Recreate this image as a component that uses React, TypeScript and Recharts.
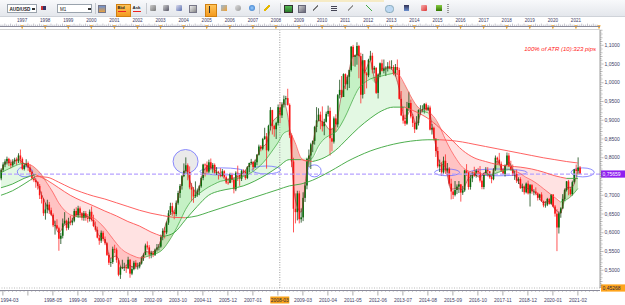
import React from 'react';
import { ComposedChart, Bar, Line, Area, XAxis, YAxis, ReferenceLine, ReferenceArea } from 'recharts';

// ---------------- data (monthly AUD/USD, first bar = 1996-02) ----------------
const OPEN = [
  .745,.768,.782,.790,.797,.785,.780,.790,.795,.791,.806,
  .797,.770,.780,.786,.774,.762,.745,.740,.735,.725,.700,.690,
  .652,.662,.675,.660,.648,.620,.620,.612,.584,.592,.625,.632,
  .613,.630,.627,.632,.658,.647,.665,.652,.640,.652,.640,.637,
  .656,.634,.618,.608,.587,.579,.600,.583,.572,.541,.520,.522,
  .557,.555,.527,.488,.508,.508,.509,.505,.528,.491,.503,.520,
  .510,.510,.518,.533,.541,.566,.561,.542,.546,.541,.555,.561,
  .563,.588,.605,.601,.627,.652,.671,.655,.650,.680,.706,.725,
  .751,.765,.780,.762,.721,.715,.697,.701,.713,.724,.746,.782,
  .781,.763,.788,.772,.781,.760,.761,.760,.752,.764,.748,.734,
  .733,.756,.741,.716,.760,.755,.744,.765,.763,.746,.775,.786,
  .789,.775,.788,.808,.830,.824,.850,.857,.820,.885,.927,.885,
  .876,.893,.935,.913,.942,.956,.959,.941,.860,.790,.664,.655,
  .705,.636,.641,.693,.726,.797,.806,.836,.845,.882,.900,.915,
  .897,.884,.896,.917,.925,.852,.843,.905,.889,.967,.981,.962,
  1.023,.996,1.016,1.034,1.096,1.069,1.073,1.098,1.071,.968,1.060,1.025,
  1.020,1.061,1.072,1.035,1.040,.973,1.022,1.052,1.032,1.038,1.038,1.044,
  1.039,1.042,1.024,1.042,1.034,.957,.913,.899,.891,.932,.946,.910,
  .893,.876,.893,.927,.929,.930,.943,.928,.934,.875,.880,.851,
  .818,.777,.782,.761,.792,.766,.771,.731,.710,.701,.714,.723,
  .729,.707,.713,.766,.760,.722,.745,.760,.752,.765,.761,.739,
  .722,.758,.767,.764,.748,.743,.769,.800,.795,.784,.766,.757,
  .781,.806,.777,.768,.753,.757,.739,.743,.719,.723,.708,.731,
  .705,.727,.710,.710,.705,.693,.702,.684,.673,.675,.690,.677,
  .702,.670,.651,.614,.652,.665,.690,.714,.737,.716,.703,.735,
  .769,.765,.774,
];
const HIGH = [
  .772,.788,.796,.803,.800,.795,.796,.800,.801,.812,.822,
  .801,.786,.796,.790,.782,.765,.750,.745,.738,.730,.710,.693,
  .680,.688,.682,.667,.652,.632,.636,.616,.600,.638,.655,.635,
  .640,.645,.640,.664,.668,.672,.670,.655,.658,.658,.650,.662,
  .670,.648,.630,.616,.594,.606,.605,.590,.575,.547,.532,.563,
  .568,.560,.532,.512,.528,.520,.515,.536,.530,.511,.525,.527,
  .520,.522,.537,.545,.571,.577,.567,.552,.551,.558,.570,.570,
  .595,.612,.615,.630,.660,.680,.680,.660,.686,.712,.730,.754,
  .785,.801,.785,.777,.733,.722,.737,.718,.727,.750,.784,.785,
  .790,.795,.798,.786,.785,.775,.765,.772,.770,.767,.752,.745,
  .760,.760,.745,.764,.779,.758,.768,.769,.767,.778,.787,.797,
  .791,.795,.810,.835,.834,.853,.880,.866,.888,.935,.928,.888,
  .896,.942,.949,.948,.966,.965,.984,.945,.865,.800,.705,.712,
  .712,.665,.708,.735,.800,.822,.840,.846,.885,.935,.932,.923,
  .937,.904,.923,.939,.934,.880,.910,.916,.970,1.008,1.018,1.025,
  1.025,1.020,1.035,1.098,1.101,1.075,1.108,1.101,1.080,1.077,1.060,1.029,
  1.064,1.085,1.080,1.045,1.041,1.025,1.054,1.062,1.062,1.044,1.055,1.059,
  1.060,1.047,1.050,1.062,1.040,.978,.935,.915,.949,.976,.955,.917,
  .897,.911,.929,.940,.940,.946,.947,.940,.939,.890,.883,.852,
  .829,.795,.789,.803,.809,.786,.775,.744,.715,.738,.729,.738,
  .730,.725,.768,.783,.763,.757,.763,.776,.770,.773,.778,.749,
  .760,.775,.775,.765,.752,.772,.806,.803,.813,.790,.772,.782,
  .814,.813,.792,.782,.765,.768,.748,.748,.731,.726,.734,.739,
  .730,.730,.716,.721,.708,.704,.708,.686,.684,.693,.693,.703,
  .703,.674,.663,.657,.668,.703,.718,.738,.741,.722,.739,.770,
  .782,.801,.778,
];
const LOW = [
  .740,.762,.775,.782,.778,.772,.776,.783,.781,.786,.786,
  .767,.766,.776,.765,.756,.740,.735,.720,.715,.690,.678,.645,
  .635,.652,.650,.645,.615,.595,.610,.552,.570,.585,.622,.606,
  .608,.620,.620,.628,.642,.640,.640,.633,.632,.632,.627,.630,
  .630,.615,.603,.585,.568,.573,.577,.567,.538,.514,.509,.517,
  .546,.520,.484,.477,.503,.498,.493,.503,.480,.487,.500,.503,
  .502,.505,.515,.525,.540,.555,.531,.532,.535,.538,.550,.553,
  .560,.580,.585,.596,.621,.648,.645,.636,.644,.675,.693,.715,
  .749,.760,.740,.716,.684,.680,.693,.696,.700,.720,.740,.750,
  .755,.758,.767,.760,.755,.754,.742,.748,.750,.745,.730,.728,
  .732,.734,.705,.711,.738,.725,.738,.752,.741,.743,.761,.782,
  .767,.774,.780,.806,.817,.820,.848,.771,.817,.873,.862,.856,
  .850,.886,.892,.906,.934,.940,.939,.853,.775,.601,.625,.633,
  .625,.627,.631,.682,.716,.775,.770,.815,.835,.868,.897,.876,
  .870,.860,.894,.910,.806,.817,.838,.869,.881,.958,.960,.962,
  .983,.980,.986,1.030,1.045,1.043,1.048,1.012,.945,.958,.970,.985,
  1.015,1.058,1.025,1.025,.970,.958,1.015,1.030,1.025,1.018,1.030,1.036,
  1.035,1.020,1.017,1.022,.955,.911,.891,.885,.888,.925,.905,.882,
  .866,.875,.886,.915,.921,.918,.925,.925,.873,.862,.846,.802,
  .772,.762,.753,.757,.757,.760,.726,.689,.690,.697,.703,.706,
  .683,.701,.709,.752,.715,.715,.735,.749,.747,.753,.734,.716,
  .716,.757,.750,.744,.732,.740,.765,.782,.782,.762,.755,.750,
  .780,.776,.766,.753,.741,.733,.730,.717,.709,.702,.705,.702,
  .670,.704,.700,.700,.686,.687,.683,.668,.667,.671,.675,.675,
  .668,.643,.551,.598,.640,.663,.684,.710,.700,.699,.699,.731,
  .756,.756,.757,
];
const CLOSE = [
  .768,.782,.790,.797,.785,.780,.790,.795,.791,.806,.797,
  .770,.780,.786,.774,.762,.745,.740,.735,.725,.700,.690,.652,
  .662,.675,.660,.648,.620,.620,.612,.584,.592,.625,.632,.613,
  .630,.627,.632,.658,.647,.665,.652,.640,.652,.640,.637,.656,
  .634,.618,.608,.587,.579,.600,.583,.572,.541,.520,.522,.557,
  .555,.527,.488,.508,.508,.509,.505,.528,.491,.503,.520,.510,
  .510,.518,.533,.541,.566,.561,.542,.546,.541,.555,.561,.563,
  .588,.605,.601,.627,.652,.671,.655,.650,.680,.706,.725,.751,
  .765,.780,.762,.721,.715,.697,.701,.713,.724,.746,.782,.781,
  .763,.788,.772,.781,.760,.761,.760,.752,.764,.748,.734,.733,
  .756,.741,.716,.760,.755,.744,.765,.763,.746,.775,.786,.789,
  .775,.788,.808,.830,.824,.850,.857,.820,.885,.927,.885,.876,
  .893,.935,.913,.942,.956,.959,.941,.860,.790,.664,.655,.705,
  .636,.641,.693,.726,.797,.806,.836,.845,.882,.900,.915,.897,
  .884,.896,.917,.925,.852,.843,.905,.889,.967,.981,.962,1.023,
  .996,1.016,1.034,1.096,1.069,1.073,1.098,1.071,.968,1.060,1.025,1.020,
  1.061,1.072,1.035,1.040,.973,1.022,1.052,1.032,1.038,1.038,1.044,1.039,
  1.042,1.024,1.042,1.034,.957,.913,.899,.891,.932,.946,.910,.893,
  .876,.893,.927,.929,.930,.943,.928,.934,.875,.880,.851,.818,
  .777,.782,.761,.792,.766,.771,.731,.710,.701,.714,.723,.729,
  .707,.713,.766,.760,.722,.745,.760,.752,.765,.761,.739,.722,
  .758,.767,.764,.748,.743,.769,.800,.795,.784,.766,.757,.781,
  .806,.777,.768,.753,.757,.739,.743,.719,.723,.708,.731,.705,
  .727,.710,.710,.705,.693,.702,.684,.673,.675,.690,.677,.702,
  .670,.651,.614,.652,.665,.690,.714,.737,.716,.703,.735,.769,
  .765,.774,.757,
];

// indicator lines (fast / mid every 3 bars, slow lines every 6 bars)
const FAST = [
  .762,.788,.788,.797,.784,.772,.742,.703,.670,.640,
  .600,.620,.627,.648,.650,.643,.630,.592,.582,.532,
  .538,.505,.515,.508,.514,.550,.548,.556,.595,.642,
  .658,.712,.768,.728,.706,.760,.778,.768,.756,.742,
  .745,.750,.760,.780,.790,.825,.838,.893,.912,.945,
  .880,.690,.655,.765,.835,.900,.893,.875,.885,.965,
  1.008,1.070,1.075,1.030,1.058,.998,1.038,1.040,1.032,.985,
  .903,.925,.890,.927,.932,.862,.788,.776,.716,.718,
  .715,.744,.755,.748,.762,.750,.792,.768,.788,.757,
  .728,.719,.714,.700,.680,.683,.663,.652,.720,.722,
  .767,
];
const MID = [
  .760,.768,.775,.782,.785,.782,.772,.755,.732,.708,
  .680,.660,.648,.643,.642,.643,.640,.628,.612,.592,
  .572,.555,.545,.538,.533,.535,.540,.545,.555,.575,
  .600,.630,.662,.685,.700,.712,.722,.730,.737,.740,
  .742,.745,.750,.757,.767,.780,.797,.818,.840,.865,
  .872,.840,.800,.790,.800,.830,.850,.860,.868,.890,
  .920,.955,.985,1.000,1.010,1.015,1.018,1.022,1.025,1.020,
  .995,.965,.940,.925,.920,.910,.885,.850,.820,.795,
  .775,.765,.760,.758,.755,.755,.760,.765,.768,.766,
  .758,.748,.740,.730,.718,.706,.694,.682,.688,.700,
  .718,
];
const SLOW1 = [
  .720,.730,.745,.755,.740,.720,.700,.685,.672,.658,
  .645,.630,.618,.602,.590,.600,.635,.670,.700,.712,
  .718,.725,.738,.755,.775,.795,.795,.790,.800,.820,
  .850,.880,.905,.925,.935,.935,.922,.905,.880,.850,
  .820,.800,.790,.782,.778,.775,.770,.762,.752,.745,
  .745,
];
const SLOW2 = [
  .700,.712,.730,.750,.748,.735,.720,.708,.698,.690,
  .680,.670,.660,.652,.646,.641,.640,.645,.655,.665,
  .675,.685,.695,.705,.715,.725,.730,.740,.755,.772,
  .790,.805,.818,.828,.836,.842,.846,.848,.848,.846,
  .842,.836,.830,.824,.818,.812,.806,.800,.795,.790,
  .786,
];

// axis texts
const BOTTOM_LABELS = ['1994-03','1998-05','1999-06','2000-07','2001-08','2002-09','2003-10','2004-11','2005-12','2007-01','2009-03','2010-04','2011-05','2012-06','2013-07','2014-08','2015-09','2016-10','2017-11','2018-12','2020-01','2021-02'];
const LAST_YEAR_LABEL = 2021;
const CURSOR_LABEL = '2008-03';
const CURRENT_PRICE = 0.75659;
const MIN_PRICE = 0.45268;
const ATR_TEXT = '100% of ATR (10):323 pips';

// hand-drawn annotation ellipses: [fromBar, toBar, lowPrice, highPrice, shaded]
const ELLIPSES: [number, number, number, number, boolean][] = [
  [9, 16, 0.749, 0.776, false],
  [90, 102, 0.758, 0.822, true],
  [104, 126, 0.754, 0.773, false],
  [131, 145, 0.757, 0.778, false],
  [160, 166, 0.749, 0.781, false],
  [226, 238, 0.752, 0.770, false],
  [244, 273, 0.752, 0.770, false],
  [297, 308, 0.749, 0.773, false],
];

// ---------------- layout / style ----------------
const W = 625, H = 305;
const SLOTS = 312;
const FONT = '"Liberation Sans", Arial, sans-serif';
const AXIS_TEXT = '#3c3c66';
const BULL = '#0b6b0b', BULL_WICK = '#174a17';
const BEAR = '#ff1010', BEAR_WICK = '#ff2a2a';
const GREEN_FILL = '#7fe07f', RED_FILL = '#ff7a7a';
const GREEN_LINE = '#3aa53a', RED_LINE = '#ff5050';

const ym = (i: number) => ({ y: 1996 + Math.floor((i + 1) / 12), m: ((i + 1) % 12) + 1 });
const barOf = (s: string) => { const [y, m] = s.split('-').map(Number); return (y - 1996) * 12 + (m - 2); };

const ALL_I = Array.from({ length: SLOTS }, (_, i) => i);
const rows: any[] = ALL_I.map((i) => ({ i }));
CLOSE.forEach((c, i) => { rows[i].hl = [LOW[i], HIGH[i]]; rows[i].o = OPEN[i]; rows[i].c = c; });

const FAST_I = FAST.map((_, k) => k * 3);
const SLOW_I = SLOW1.map((_, k) => k * 6);
FAST.forEach((v, k) => { rows[FAST_I[k]].fast = v; });

type Run = { from: number; to: number; green: boolean };
function segRuns(n: number, green: (k: number) => boolean): Run[] {
  const runs: Run[] = [];
  for (let k = 0; k < n - 1; k++) {
    const g = green(k);
    const last = runs[runs.length - 1];
    if (last && last.green === g) last.to = k + 1;
    else runs.push({ from: k, to: k + 1, green: g });
  }
  return runs;
}

type Series = { key: string; green: boolean };
const abFills: Series[] = [], midLines: Series[] = [], bcFills: Series[] = [], s1Lines: Series[] = [], s2Lines: Series[] = [];

segRuns(FAST.length, (k) => FAST[k] + FAST[k + 1] >= MID[k] + MID[k + 1]).forEach((r, n) => {
  const fk = `ab${n}`, mk = `mid${n}`;
  for (let k = r.from; k <= r.to; k++) {
    const a = FAST[k], b = MID[k];
    rows[FAST_I[k]][fk] = [Math.min(a, b), Math.max(a, b)];
    rows[FAST_I[k]][mk] = b;
  }
  abFills.push({ key: fk, green: r.green });
  midLines.push({ key: mk, green: r.green });
});
const midAtSlow = SLOW_I.map((i) => MID[i / 3]);
segRuns(SLOW1.length, (k) => midAtSlow[k] + midAtSlow[k + 1] >= SLOW1[k] + SLOW1[k + 1]).forEach((r, n) => {
  const key = `bc${n}`;
  for (let k = r.from; k <= r.to; k++) {
    const a = midAtSlow[k], b = SLOW1[k];
    rows[SLOW_I[k]][key] = [Math.min(a, b), Math.max(a, b)];
  }
  bcFills.push({ key, green: r.green });
});
const slopeRuns = (vals: number[], prefix: string, out: Series[]) =>
  segRuns(vals.length, (k) => vals[k + 1] >= vals[k]).forEach((r, n) => {
    const key = `${prefix}${n}`;
    for (let k = r.from; k <= r.to; k++) rows[SLOW_I[k]][key] = vals[k];
    out.push({ key, green: r.green });
  });
slopeRuns(SLOW1, 's1_', s1Lines);
slopeRuns(SLOW2, 's2_', s2Lines);

const MAJOR = new Set(Array.from({ length: 24 }, (_, k) => 1 + 13 * k));
const LABEL_AT: Record<number, string> = {};
BOTTOM_LABELS.forEach((t, n) => { LABEL_AT[n === 0 ? 1 : barOf(t)] = t; });

const Y_TICKS: number[] = [];
for (let k = 91; k <= 228; k++) Y_TICKS.push(k / 200);
const fmt = (v: number, d = 4) => v.toFixed(d).replace('.', ',');

// ---------------- renderers ----------------
const Candle = (props: any) => {
  const { x, y, width, height, payload } = props;
  if (!payload || !payload.hl) return null;
  const [lo, hi] = payload.hl;
  const top = Math.min(y, y + height), h = Math.abs(height);
  const span = hi - lo || 1;
  const py = (v: number) => top + ((hi - v) / span) * h;
  const cx = x + width / 2;
  const up = payload.c >= payload.o;
  const yo = py(payload.o), yc = py(payload.c);
  const bt = Math.min(yo, yc), bh = Math.max(Math.abs(yc - yo), 0.8);
  return (
    <g>
      <line x1={cx} x2={cx} y1={top} y2={top + h} stroke={up ? BULL_WICK : BEAR_WICK} strokeWidth={0.8} />
      <rect x={cx - 0.8} y={bt} width={1.6} height={bh} fill={up ? BULL : BEAR} />
    </g>
  );
};

const AxisTick = (props: any) => {
  const { x, payload } = props;
  const i = payload.value as number;
  const { y: yr, m } = ym(i);
  const out: any[] = [];
  // top ruler
  if (m === 1) {
    out.push(<path key="tm" d={`M${x - 1.6},25.2 L${x + 1.6},25.2 L${x},29.4 Z`} fill="#f0a020" />);
    if (yr <= LAST_YEAR_LABEL) out.push(<text key="tt" x={x} y={22.2} fontSize={4.6} textAnchor="middle" fill={AXIS_TEXT} fontFamily={FONT}>{yr}</text>);
  } else {
    out.push(<line key="tl" x1={x} x2={x} y1={(m - 1) % 3 === 0 ? 23.6 : 24.6} y2={26} stroke="#8a8a9a" strokeWidth={0.5} />);
  }
  // bottom ruler
  if (MAJOR.has(i)) out.push(<line key="bl" x1={x} x2={x} y1={290} y2={295.5} stroke="#777" strokeWidth={0.6} />);
  else if (i % 2 === 0) out.push(<line key="bl" x1={x} x2={x} y1={290} y2={292} stroke="#999" strokeWidth={0.5} />);
  const lab = LABEL_AT[i];
  if (lab) {
    const first = i === 1;
    out.push(<text key="bt" x={first ? 0.5 : x} y={301.5} fontSize={4.9} textAnchor={first ? 'start' : 'middle'} fill={AXIS_TEXT} fontFamily={FONT}>{lab}</text>);
  }
  return <g>{out}</g>;
};

const YTick = (props: any) => {
  const { x, y, payload } = props;
  const v = payload.value as number;
  const major = Math.round(v * 200) % 10 === 0;
  const mid = Math.round(v * 200) % 2 === 0;
  // the 0,7500 label sits under the current-price tag, as in the original
  const hidden = Math.abs(v - 0.75) < 1e-6;
  return (
    <g>
      <line x1={x} x2={x + (major ? 3.5 : mid ? 2.5 : 1.5)} y1={y} y2={y} stroke="#777" strokeWidth={0.5} />
      {major && !hidden && v <= 1.1 && v >= 0.5 ? (
        <text x={x + 4.5} y={y + 1.7} fontSize={5} fill={AXIS_TEXT} fontFamily={FONT}>{fmt(v)}</text>
      ) : null}
    </g>
  );
};

const priceTag = (text: string, bg: string, fg: string) => (p: any) => {
  const vb = p.viewBox || {};
  const x = (vb.x || 0) + (vb.width || 0);
  const y = vb.y || 0;
  return (
    <g>
      <rect x={x + 1} y={y - 3.6} width={24} height={7.2} fill={bg} />
      <text x={x + 2.5} y={y + 1.8} fontSize={5} fill={fg} fontFamily={FONT}>{text}</text>
    </g>
  );
};

const cursorTag = (p: any) => {
  const vb = p.viewBox || {};
  const x = vb.x || 0;
  return (
    <g>
      <rect x={x - 9.5} y={296.5} width={19} height={7} fill="#f7a21b" />
      <text x={x} y={301.6} fontSize={4.9} textAnchor="middle" fill="#2a2a40" fontFamily={FONT}>{CURSOR_LABEL}</text>
    </g>
  );
};

const ellipseShape = (shaded: boolean) => (p: any) => (
  <ellipse
    cx={p.x + p.width / 2}
    cy={p.y + p.height / 2}
    rx={Math.abs(p.width) / 2}
    ry={Math.abs(p.height) / 2}
    fill={shaded ? '#d9d9d9' : 'none'}
    fillOpacity={shaded ? 0.55 : 0}
    stroke="#6f6fff"
    strokeWidth={0.8}
  />
);

// ---------------- toolbar chrome ----------------
const Box = (s: any) => <div style={{ position: 'absolute', ...s }} />;
const Toolbar = () => (
  <div style={{ position: 'absolute', left: 0, top: 0, width: W, height: 16, background: 'linear-gradient(#f8f9fb,#e4e7ec)', borderBottom: '1px solid #cfd3d9' }}>
    <Box left={290} top={0} width={94} height={2} background="#f6ebc6" />
    <div style={{ position: 'absolute', left: 7, top: 4, width: 30, height: 9, background: '#fff', border: '0.5px solid #9aa3ad', fontSize: 4.6, fontWeight: 'bold', lineHeight: '9px', paddingLeft: 1.5, color: '#222', fontFamily: FONT, boxSizing: 'border-box' }}>AUD/USD</div>
    <Box left={32} top={8} width={2.5} height={1.5} background="#333" />
    <Box left={41} top={6} width={5} height={4} background="linear-gradient(90deg,#c33 50%,#336 50%)" />
    <div style={{ position: 'absolute', left: 57, top: 4, width: 35, height: 9, background: '#fff', border: '0.5px solid #9aa3ad', fontSize: 4.6, lineHeight: '9px', paddingLeft: 2, color: '#222', fontFamily: FONT, boxSizing: 'border-box' }}>M1</div>
    <Box left={88} top={8} width={2.5} height={1.5} background="#333" />
    <Box left={98} top={5} width={6} height={6} background="linear-gradient(#6a8fd0,#e8a040)" border="0.5px solid #778" />
    <Box left={115.5} top={3.5} width={13.5} height={11} background="linear-gradient(#ffc45a,#f39a1e)" border="0.5px solid #d08010" />
    <div style={{ position: 'absolute', left: 117.5, top: 5, fontSize: 4.4, fontWeight: 'bold', color: '#222', fontFamily: FONT }}>Bid</div>
    <Box left={117.5} top={11} width={8} height={0.8} background="#e22" />
    <div style={{ position: 'absolute', left: 132.5, top: 5, fontSize: 4.4, fontWeight: 'bold', color: '#222', fontFamily: FONT }}>Ask</div>
    <Box left={132.5} top={11} width={8} height={0.8} background="#e22" />
    <Box left={150} top={5} width={6} height={6} background="linear-gradient(135deg,#ccc,#777)" borderRadius={1} />
    <Box left={163} top={5} width={6} height={6} background="linear-gradient(135deg,#ccc,#556)" borderRadius={1} />
    <Box left={176} top={5} width={6} height={6} background="linear-gradient(135deg,#dde,#5a6fb0)" borderRadius={1} />
    <Box left={189} top={5} width={6} height={6} background="linear-gradient(135deg,#eee,#888)" border="0.5px solid #778" />
    <Box left={204.5} top={3.5} width={10} height={11} background="linear-gradient(#ffc45a,#f39a1e)" border="0.5px solid #d08010" />
    <Box left={209} top={5.5} width={1} height={7} background="#333" />
    <Box left={221} top={5} width={6} height={6} background="linear-gradient(135deg,#9bd,#f0a030)" />
    <Box left={235} top={5} width={6} height={6} background="linear-gradient(135deg,#ddd,#999)" borderRadius={3} />
    <Box left={249} top={5} width={6} height={6} background="radial-gradient(#9cf,#2a6fc0)" borderRadius={3} />
    <Box left={264} top={5} width={6} height={6} background="linear-gradient(135deg,transparent 40%,#e6b800 40%,#e6b800 60%,transparent 60%)" />
    <Box left={284} top={5} width={7} height={6} background="linear-gradient(#5b5,#2a7a2a)" border="0.5px solid #333" />
    <Box left={298} top={5} width={6} height={6} background="linear-gradient(135deg,#ccc,#667)" border="0.5px solid #667" />
    <Box left={313} top={5} width={5} height={6} background="linear-gradient(135deg,transparent 40%,#777 40%,#777 60%,transparent 60%)" />
    <Box left={331} top={5.5} width={6} height={1} background="#445" />
    <Box left={331} top={7.5} width={6} height={1} background="#445" />
    <Box left={331} top={9.5} width={6} height={1} background="#445" />
    <Box left={348} top={5} width={5} height={6} background="linear-gradient(135deg,transparent 40%,#999 40%,#999 60%,transparent 60%)" />
    <Box left={366} top={5} width={6} height={6} background="linear-gradient(45deg,transparent 42%,#4a4 42%,#4a4 58%,transparent 58%)" />
    <Box left={385} top={5} width={7} height={6} background="#bcd8f2" borderRadius={3.5} border="0.5px solid #8ab" />
    <Box left={404} top={5} width={5} height={6} background="linear-gradient(#335,#6a8fd0)" />
    <Box left={421} top={5} width={6} height={6} background="linear-gradient(135deg,#f5b0b0,#d33)" borderRadius={1} />
    <Box left={436} top={5} width={6} height={6} background="linear-gradient(#8c4,#370)" />
    <Box left={447} top={4} width={1.5} height={9} background="repeating-linear-gradient(#999 0 1px,transparent 1px 2px)" />
    <Box left={95} top={3} width={0.6} height={11} background="#c5c9cf" />
    <Box left={146} top={3} width={0.6} height={11} background="#c5c9cf" />
    <Box left={259} top={3} width={0.6} height={11} background="#c5c9cf" />
    <Box left={280} top={3} width={0.6} height={11} background="#c5c9cf" />
  </div>
);

export default function App() {
  return (
    <div style={{ position: 'fixed', left: 0, top: 0, width: W, height: H, background: '#fff', overflow: 'hidden', fontFamily: FONT }}>
      <ComposedChart width={W} height={H} data={rows} margin={{ top: 30, right: 0, bottom: 0, left: 0 }} style={{ position: 'absolute', left: 0, top: 0 }}>
        <XAxis dataKey="i" type="category" height={17} ticks={ALL_I} interval={0} tick={<AxisTick />} tickLine={false} axisLine={false} tickSize={0} tickMargin={0} />
        <YAxis orientation="right" width={25} type="number" domain={[MIN_PRICE, 1.1407]} allowDataOverflow ticks={Y_TICKS} interval={0} tick={<YTick />} tickLine={false} tickSize={0} tickMargin={0} axisLine={{ stroke: '#777', strokeWidth: 0.7 }} />

        {bcFills.map((s) => (
          <Area key={s.key} dataKey={s.key} type="monotone" stroke="none" fill={s.green ? GREEN_FILL : RED_FILL} fillOpacity={0.22} connectNulls dot={false} activeDot={false} isAnimationActive={false} />
        ))}
        {abFills.map((s) => (
          <Area key={s.key} dataKey={s.key} type="monotone" stroke="none" fill={s.green ? GREEN_FILL : RED_FILL} fillOpacity={0.45} connectNulls dot={false} activeDot={false} isAnimationActive={false} />
        ))}

        <ReferenceLine y={MIN_PRICE} stroke="#bbb" strokeDasharray="1 1.5" label={priceTag(fmt(MIN_PRICE, 5), '#ffa41c', '#2a2a40')} />
        <ReferenceLine x={145} stroke="#9a9a9a" strokeDasharray="1 1.5" label={cursorTag} />
        <ReferenceLine y={CURRENT_PRICE} stroke="#b7a2ff" strokeWidth={1.3} strokeDasharray="4 2" label={priceTag(fmt(CURRENT_PRICE, 5), '#8f1ff0', '#ffffff')} />

        <Bar dataKey="hl" shape={Candle} isAnimationActive={false} />

        {s2Lines.map((s) => (
          <Line key={s.key} dataKey={s.key} type="monotone" stroke={s.green ? GREEN_LINE : RED_LINE} strokeWidth={0.9} connectNulls dot={false} activeDot={false} isAnimationActive={false} />
        ))}
        {s1Lines.map((s) => (
          <Line key={s.key} dataKey={s.key} type="monotone" stroke={s.green ? GREEN_LINE : RED_LINE} strokeWidth={0.9} connectNulls dot={false} activeDot={false} isAnimationActive={false} />
        ))}
        {midLines.map((s) => (
          <Line key={s.key} dataKey={s.key} type="monotone" stroke={s.green ? GREEN_LINE : RED_LINE} strokeWidth={0.7} connectNulls dot={false} activeDot={false} isAnimationActive={false} />
        ))}
        <Line dataKey="fast" type="monotone" stroke="#9b2a2a" strokeWidth={0.6} connectNulls dot={false} activeDot={false} isAnimationActive={false} />

        {ELLIPSES.map(([a, b, lo, hi, shaded], n) => (
          <ReferenceArea key={`el${n}`} x1={a} x2={b} y1={lo} y2={hi} ifOverflow="visible" shape={ellipseShape(shaded)} />
        ))}
      </ComposedChart>

      <Toolbar />
      <Box left={0} top={26} width={600} height={0.6} background="#8a8a9a" />
      <Box left={0} top={289.6} width={600} height={0.6} background="#8a8a9a" />
      <Box left={0} top={29} width={600} height={0.5} background="#d4d4d4" />
      <div style={{ position: 'absolute', right: 29, top: 46, fontSize: 6, fontStyle: 'italic', color: '#ff1a1a', fontFamily: FONT, whiteSpace: 'nowrap' }}>{ATR_TEXT}</div>
    </div>
  );
}
